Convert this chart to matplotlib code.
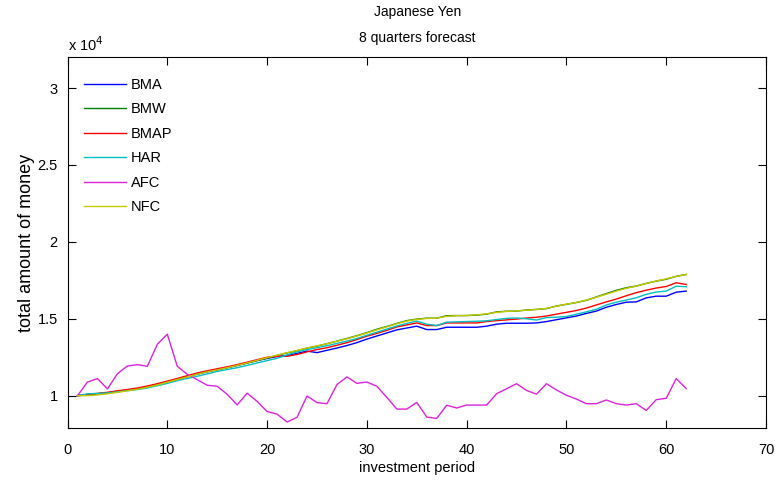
import matplotlib
matplotlib.use("Agg")
import matplotlib.pyplot as plt
import numpy as np

plt.rcParams['font.family'] = ['Liberation Sans', 'DejaVu Sans']

# investment periods
periods = list(range(1, 63))

# total amount of money, in units of 10^4
BMA = [1.000, 1.006, 1.012, 1.018, 1.027, 1.036, 1.045, 1.058, 1.073, 1.090,
       1.106, 1.123, 1.140, 1.155, 1.168, 1.182, 1.196, 1.212, 1.228, 1.242,
       1.255, 1.262, 1.275, 1.290, 1.280, 1.295, 1.310, 1.326, 1.345, 1.368,
       1.388, 1.408, 1.428, 1.440, 1.452, 1.430, 1.430, 1.445, 1.445, 1.445,
       1.445, 1.452, 1.465, 1.471, 1.471, 1.471, 1.473, 1.482, 1.494, 1.506,
       1.518, 1.535, 1.550, 1.575, 1.593, 1.608, 1.610, 1.636, 1.647, 1.647,
       1.673, 1.680]
BMW = [1.000, 1.005, 1.012, 1.018, 1.027, 1.036, 1.046, 1.058, 1.073, 1.090,
       1.107, 1.125, 1.142, 1.157, 1.170, 1.183, 1.198, 1.213, 1.229, 1.245,
       1.262, 1.278, 1.292, 1.310, 1.322, 1.338, 1.355, 1.372, 1.390, 1.410,
       1.432, 1.450, 1.470, 1.488, 1.498, 1.504, 1.504, 1.520, 1.521, 1.521,
       1.524, 1.530, 1.545, 1.549, 1.550, 1.557, 1.561, 1.566, 1.583, 1.594,
       1.606, 1.620, 1.642, 1.664, 1.685, 1.702, 1.713, 1.730, 1.745, 1.757,
       1.776, 1.788]
BMAP = [1.000, 1.008, 1.015, 1.022, 1.032, 1.040, 1.050, 1.063, 1.078, 1.095,
        1.112, 1.130, 1.148, 1.162, 1.175, 1.188, 1.202, 1.218, 1.234, 1.250,
        1.256, 1.256, 1.268, 1.285, 1.300, 1.312, 1.328, 1.345, 1.365, 1.387,
        1.405, 1.425, 1.447, 1.460, 1.473, 1.456, 1.456, 1.473, 1.473, 1.473,
        1.473, 1.482, 1.488, 1.493, 1.498, 1.505, 1.510, 1.518, 1.530, 1.542,
        1.554, 1.570, 1.590, 1.610, 1.628, 1.650, 1.670, 1.686, 1.700, 1.710,
        1.734, 1.723]
HAR = [1.000, 1.012, 1.015, 1.018, 1.025, 1.032, 1.040, 1.050, 1.065, 1.080,
       1.098, 1.112, 1.126, 1.142, 1.158, 1.170, 1.182, 1.197, 1.213, 1.228,
       1.243, 1.265, 1.285, 1.300, 1.312, 1.325, 1.340, 1.355, 1.372, 1.393,
       1.413, 1.433, 1.453, 1.470, 1.485, 1.465, 1.456, 1.478, 1.480, 1.482,
       1.484, 1.487, 1.495, 1.503, 1.505, 1.500, 1.492, 1.508, 1.510, 1.515,
       1.530, 1.545, 1.562, 1.590, 1.608, 1.622, 1.637, 1.659, 1.674, 1.680,
       1.712, 1.708]
AFC = [1.000, 1.089, 1.111, 1.044, 1.143, 1.193, 1.202, 1.191, 1.334, 1.400,
       1.191, 1.139, 1.104, 1.068, 1.061, 1.009, 0.940, 1.016, 0.963, 0.897,
       0.880, 0.829, 0.859, 0.998, 0.955, 0.948, 1.072, 1.122, 1.080, 1.089,
       1.061, 0.989, 0.913, 0.913, 0.956, 0.861, 0.852, 0.938, 0.920, 0.939,
       0.939, 0.939, 1.013, 1.045, 1.078, 1.034, 1.010, 1.078, 1.037, 1.003,
       0.978, 0.948, 0.948, 0.972, 0.948, 0.939, 0.948, 0.904, 0.974, 0.983,
       1.111, 1.046]
NFC = [1.000, 1.000, 1.005, 1.012, 1.022, 1.032, 1.042, 1.055, 1.070, 1.088,
       1.105, 1.122, 1.140, 1.155, 1.168, 1.182, 1.197, 1.213, 1.230, 1.247,
       1.263, 1.280, 1.294, 1.310, 1.324, 1.338, 1.354, 1.370, 1.388, 1.408,
       1.428, 1.448, 1.468, 1.485, 1.496, 1.502, 1.504, 1.516, 1.520, 1.521,
       1.526, 1.532, 1.542, 1.548, 1.551, 1.556, 1.560, 1.568, 1.582, 1.595,
       1.606, 1.622, 1.640, 1.660, 1.680, 1.698, 1.712, 1.730, 1.746, 1.760,
       1.775, 1.788]

series_names = ['BMA', 'BMW', 'BMAP', 'HAR', 'AFC', 'NFC']
series_values = [BMA, BMW, BMAP, HAR, AFC, NFC]
series_colors = ['#0000ff', '#008000', '#ff0000', '#00bfbf', '#dd22dd', '#c8c800']

x_ticks = [0, 10, 20, 30, 40, 50, 60, 70]
y_ticks = [1, 1.5, 2, 2.5, 3]
y_tick_labels = ['1', '1.5', '2', '2.5', '3']

fig = plt.figure(figsize=(7.78, 4.8), dpi=100)
ax = fig.add_axes([0.0868, 0.109, 0.8978, 0.7716])

for name, vals, col in zip(series_names, series_values, series_colors):
    ax.plot(periods, vals, color=col, linewidth=1.0, label=name)

ax.set_xlim(0, 70)
ax.set_ylim(0.792, 3.2)
ax.set_xticks(x_ticks)
ax.set_yticks(y_ticks)
ax.set_yticklabels(y_tick_labels)
ax.tick_params(direction='in', length=6, width=0.8, top=True, right=True,
               labelsize=10.5)
ax.tick_params(axis='x', pad=11)
ax.tick_params(axis='y', pad=7)
for sp in ax.spines.values():
    sp.set_linewidth(0.8)

ax.set_xlabel('investment period', fontsize=10.5, labelpad=3)
ax.set_ylabel('total amount of money', fontsize=13, labelpad=1.5)

fig.text(0.5366, 0.975, 'Japanese Yen', ha='center', va='center', fontsize=10)
fig.text(0.5366, 0.921, '8 quarters forecast', ha='center', va='center', fontsize=10)
ax.text(0.0, 1.008, r'x 10$^4$', transform=ax.transAxes, ha='left', va='bottom',
        fontsize=10.5)

leg = ax.legend(loc='upper left', frameon=False, fontsize=10.5, handlelength=2.9,
                labelspacing=0.72, handletextpad=0.3,
                bbox_to_anchor=(0.005, 0.98))

fig.savefig('out.png', dpi=100)
